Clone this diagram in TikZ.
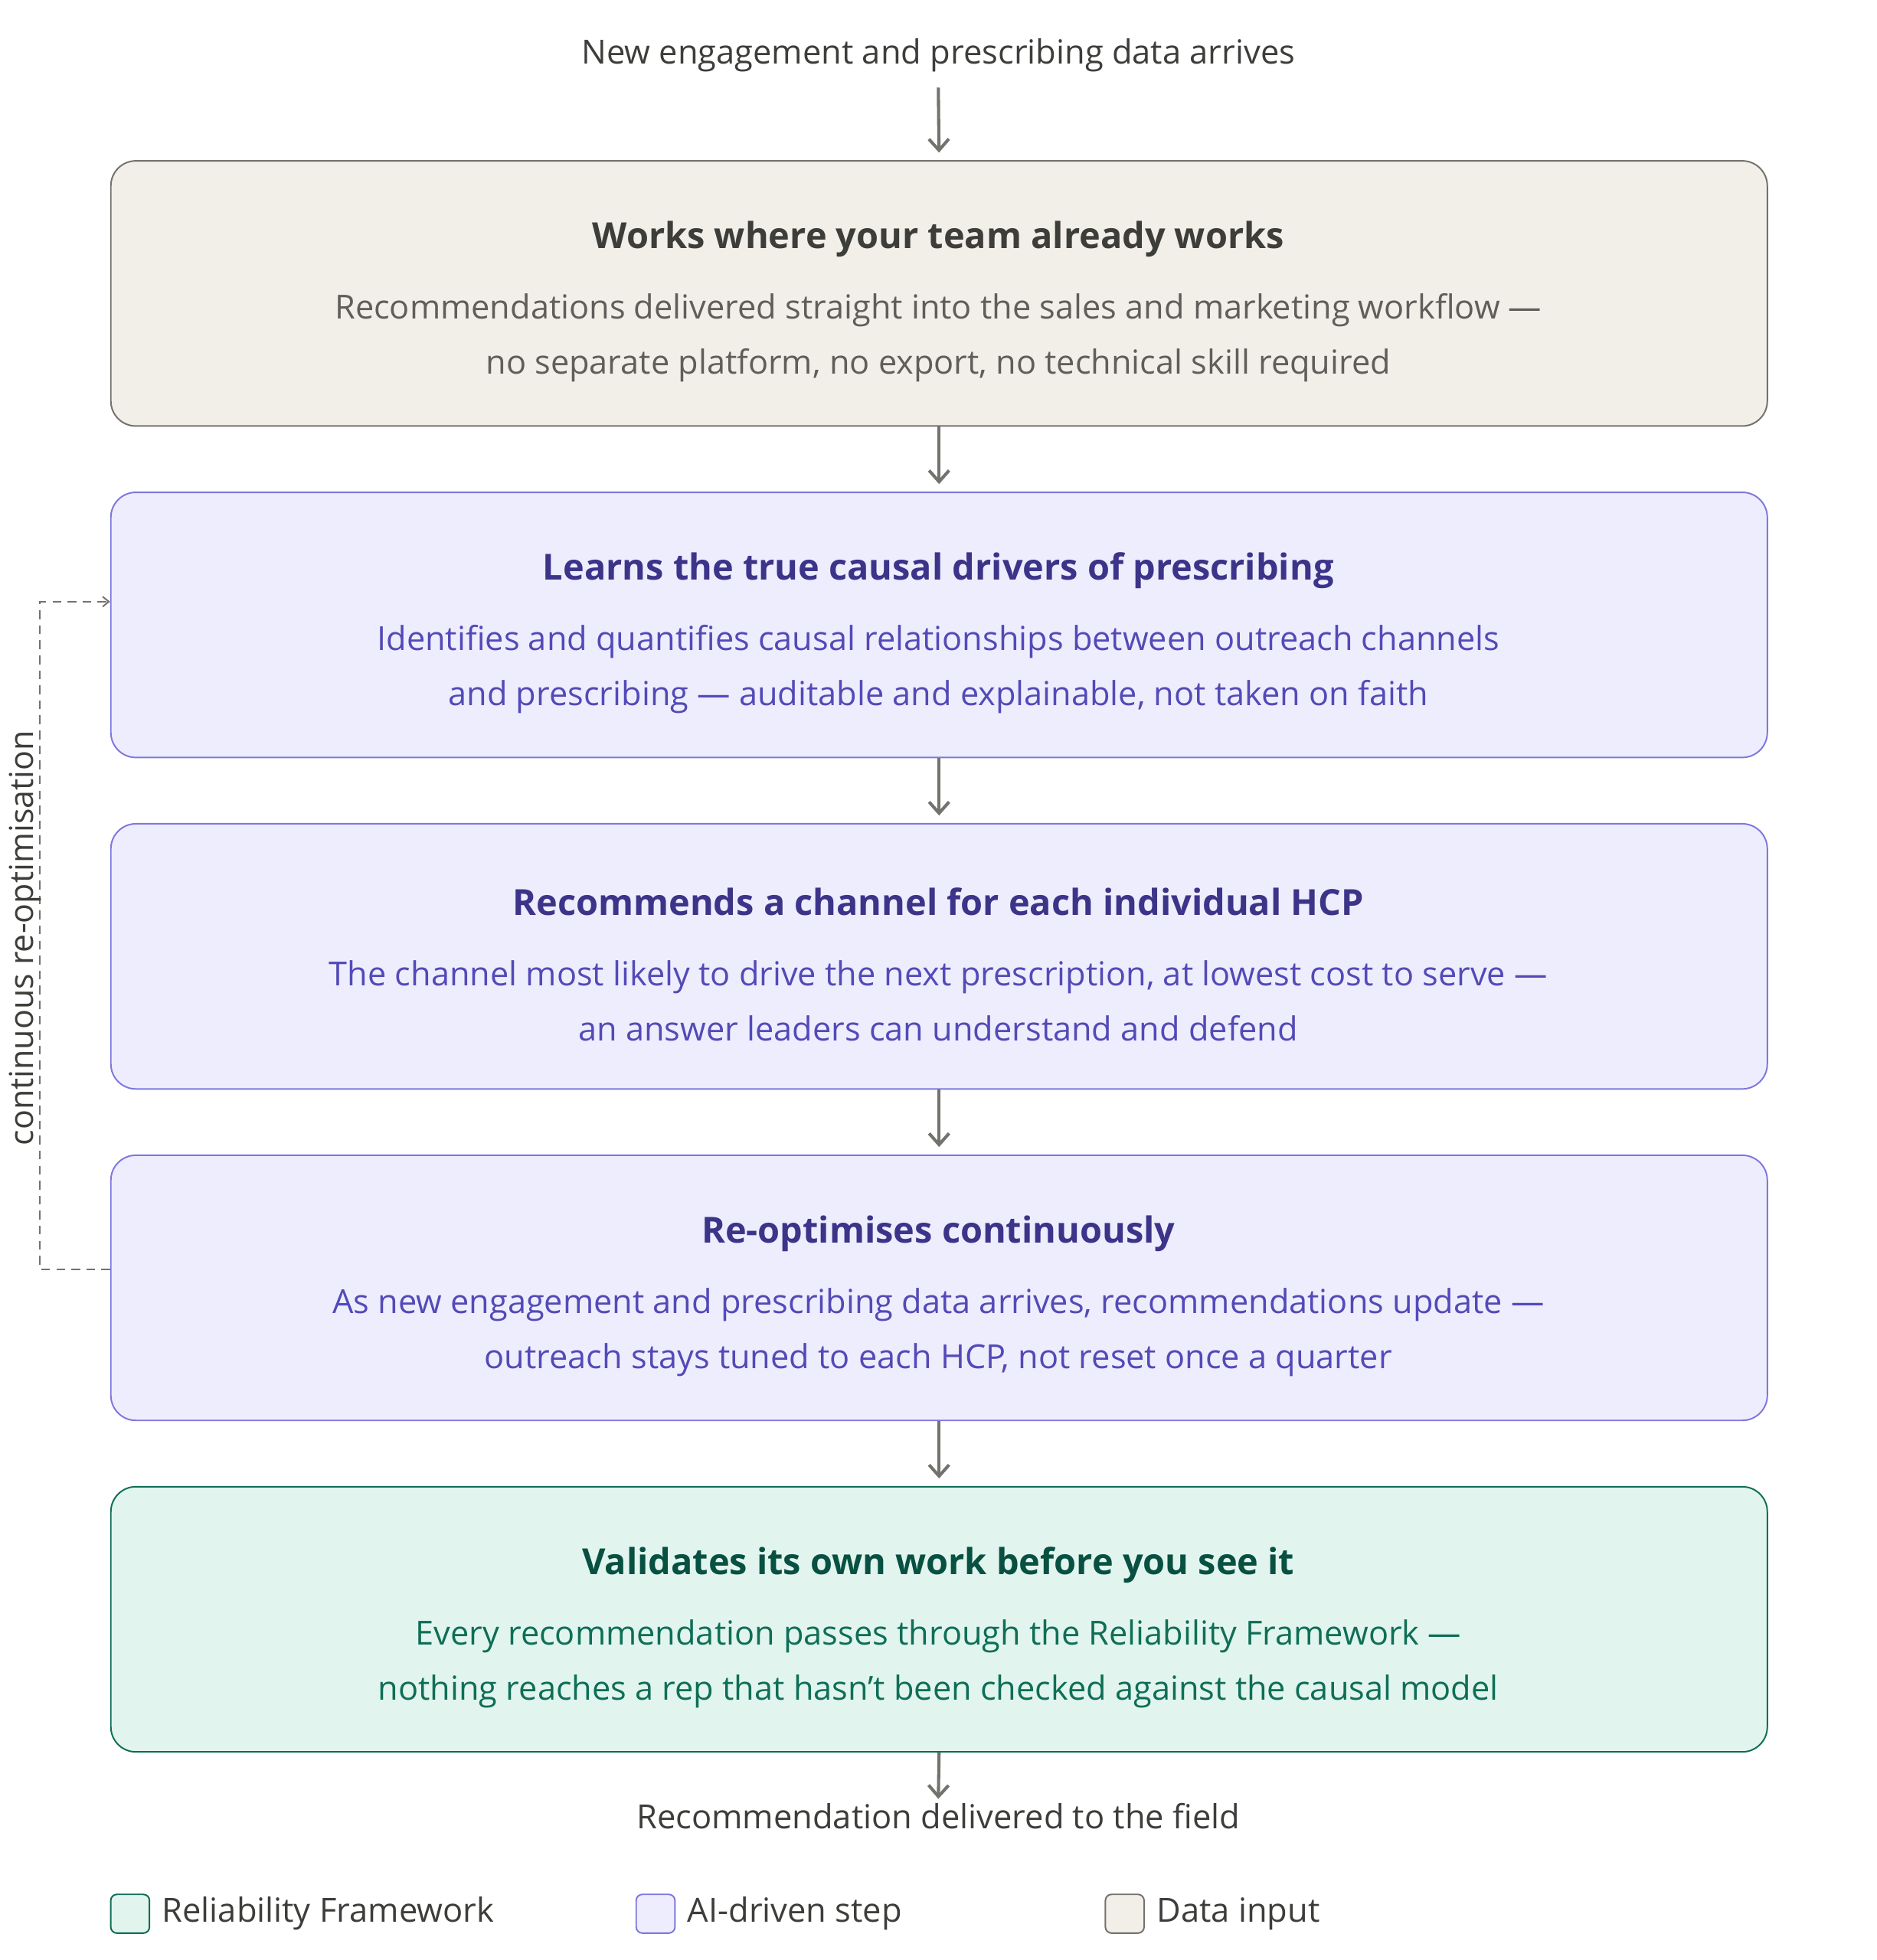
\documentclass[tikz,border=0pt]{standalone}
\usepackage{fontspec}
\setmainfont{Open Sans}
\usetikzlibrary{arrows.meta}
\definecolor{gbord}{HTML}{73726C}
\definecolor{gfill}{HTML}{F1EFE8}
\definecolor{gtitle}{HTML}{3D3D3A}
\definecolor{gbody}{HTML}{5F5E5A}
\definecolor{pfill}{HTML}{EEEDFE}
\definecolor{pbord}{HTML}{7F77DD}
\definecolor{ptitle}{HTML}{3C3489}
\definecolor{pbody}{HTML}{534AB7}
\definecolor{tfill}{HTML}{E1F5EE}
\definecolor{tbord}{HTML}{0F6E56}
\definecolor{ttitle}{HTML}{085041}
\definecolor{tbody}{HTML}{0F6E56}
\tikzset{
 box/.style={draw, rounded corners=20pt, line width=1.2pt, minimum width=1324pt, minimum height=212pt, anchor=north west},
 ttl/.style={font=\fontsize{28.7}{34}\selectfont\bfseries, anchor=center},
 bdy/.style={font=\fontsize{26.5}{44}\selectfont, align=center, anchor=center},
 arr/.style={draw=gbord, line width=2.5pt, shorten >=6pt, -{Straight Barb[length=9pt,width=16pt,line width=2.5pt]}},
 lbl/.style={font=\fontsize{26.6}{30}\selectfont, text=gtitle},
 leg/.style={draw, rounded corners=5pt, line width=1.2pt, minimum width=31pt, minimum height=31pt}
}
\begin{document}
\begin{tikzpicture}[x=1pt,y=-1pt]
\useasboundingbox (0,0) rectangle (1500,1567);
\node[lbl] (top) at (750,44) {New engagement and prescribing data arrives};
\node[box, draw=gbord, fill=gfill] (b1) at (88,128) {};
\node[box, draw=pbord, fill=pfill] (b2) at (88,393) {};
\node[box, draw=pbord, fill=pfill] (b3) at (88,658) {};
\node[box, draw=pbord, fill=pfill] (b4) at (88,923) {};
\node[box, draw=tbord, fill=tfill] (b5) at (88,1188) {};
\node[ttl, text=gtitle] at (750,191) {Works where your team already works};
\node[bdy, text=gbody] at (750,270) {Recommendations delivered straight into the sales and marketing workflow —\\no separate platform, no export, no technical skill required};
\node[ttl, text=ptitle] at (750,456) {Learns the true causal drivers of prescribing};
\node[bdy, text=pbody] at (750,535) {Identifies and quantifies causal relationships between outreach channels\\and prescribing — auditable and explainable, not taken on faith};
\node[ttl, text=ptitle] at (750,721) {Recommends a channel for each individual HCP};
\node[bdy, text=pbody] at (750,800) {The channel most likely to drive the next prescription, at lowest cost to serve —\\an answer leaders can understand and defend};
\node[ttl, text=ptitle] at (750,986) {Re-optimises continuously};
\node[bdy, text=pbody] at (750,1065) {As new engagement and prescribing data arrives, recommendations update —\\outreach stays tuned to each HCP, not reset once a quarter};
\node[ttl, text=ttitle] at (750,1251) {Validates its own work before you see it};
\node[bdy, text=tbody] at (750,1330) {Every recommendation passes through the Reliability Framework —\\nothing reaches a rep that hasn\symbol{39}t been checked against the causal model};
\node[lbl] (bot) at (750,1452) {Recommendation delivered to the field};
\draw[arr] (750,70) -- (b1.north);
\draw[arr] (b1.south) -- (b2.north);
\draw[arr] (b2.south) -- (b3.north);
\draw[arr] (b3.south) -- (b4.north);
\draw[arr] (b4.south) -- (b5.north);
\draw[arr, shorten >=0pt] (b5.south) -- (bot.north);
\coordinate (l1) at (88,1015);
\coordinate (l2) at (88,481);
\draw[gbord, line width=1.2pt, dash pattern=on 7pt off 5pt, -{Straight Barb[length=5pt,width=8pt]}] (l1) -- (32,1015) -- (32,481) -- (l2);
\node[lbl, rotate=90, font=\fontsize{26.3}{30}\selectfont] (loop) at (20,750) {continuous re-optimisation};
\node[leg, draw=tbord, fill=tfill] (k1) at (104,1530) {};
\node[lbl, anchor=west] at (126,1530) {Reliability Framework};
\node[leg, draw=pbord, fill=pfill] (k2) at (524,1530) {};
\node[lbl, anchor=west] at (546,1530) {AI-driven step};
\node[leg, draw=gbord, fill=gfill] (k3) at (899,1530) {};
\node[lbl, anchor=west] at (921,1530) {Data input};
\end{tikzpicture}
\end{document}
